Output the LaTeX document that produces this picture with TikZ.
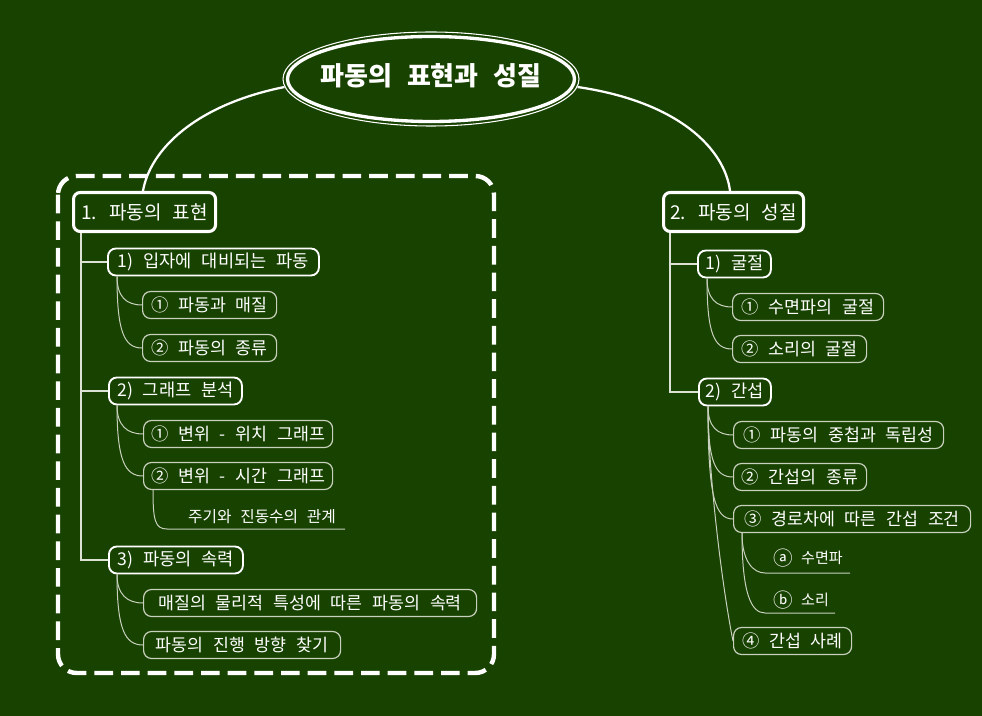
\documentclass[tikz,border=0pt]{standalone}
\usepackage{fontspec}
\newfontfamily\kr[WordSpace=2.5]{Noto Sans CJK KR}
\usetikzlibrary{calc,shapes.geometric}
\definecolor{bg}{RGB}{24,66,0}
\definecolor{ln}{RGB}{220,226,212}
\definecolor{lthree}{RGB}{200,208,190}
\def\PX{0.75pt}
\newcommand\circl[1]{\raisebox{-0.12em}{\scalebox{1.3}{#1}}}
\begin{document}
\begin{tikzpicture}[x=0.75pt,y=-0.75pt, text=white,
 lone/.style={draw=white, line width=2.3pt, rounded corners=5pt, fill=bg, minimum height=39*\PX, anchor=west, inner sep=0pt, font=\kr\fontsize{14.3}{16}\selectfont},
 ltwo/.style={draw=white, line width=1.4pt, rounded corners=6pt, fill=bg, minimum height=27*\PX, anchor=west, inner sep=0pt, font=\kr\fontsize{13.2}{15}\selectfont},
 lthr/.style={draw=lthree, line width=0.9pt, rounded corners=6pt, fill=bg, minimum height=27*\PX, anchor=west, inner sep=0pt, font=\kr\fontsize{13}{15}\selectfont},
 utxt/.style={inner sep=0pt, font=\kr\fontsize{11.8}{13}\selectfont},
 conn/.style={draw=ln, line width=1pt},
 sub/.style={draw=lthree, line width=0.75pt},
 mainc/.style={draw=white, line width=1.7pt}
]
\fill[bg] (0,0) rectangle (982,716);
\useasboundingbox (0,0) rectangle (982,716);

% dashed frame
\draw[white, line width=3.3pt, dash pattern=on 14pt off 6pt, rounded corners=14pt]
  (58,176) rectangle (494,673);

% title
\node[ellipse, draw=white, line width=0.8pt, minimum width=296*\PX, minimum height=94*\PX, inner sep=0pt] (Tout) at (431,79) {};
\node[ellipse, draw=white, line width=2.5pt, minimum width=287*\PX, minimum height=85*\PX, inner sep=0pt] (Tin) at (431,79) {};
\node[inner sep=0pt, font=\kr\bfseries\fontsize{19.5}{22}\selectfont] (T) at (431,76) {파동의 표현과 성질};

% level 1
\node[lone, minimum width=142*\PX] (A) at (72,212) {1. 파동의 표현};
\node[lone, minimum width=140*\PX] (B) at (662,212) {2. 파동의 성질};

\coordinate (TL) at ($(Tout.west)+(2,8)$);
\coordinate (TR) at ($(Tout.east)+(-2,8)$);
\draw[mainc] (TL) .. controls (195,105) and (150,150) .. (A.north -| 143,0);
\draw[mainc] (TR) .. controls (680,102) and (725,150) .. (B.north -| 730,0);

% left level 2
\node[ltwo, minimum width=211*\PX] (A1) at (107,262) {1) 입자에 대비되는 파동};
\node[ltwo, minimum width=133*\PX] (A2) at (108,391) {2) 그래프 분석};
\node[ltwo, minimum width=134*\PX] (A3) at (108,560) {3) 파동의 속력};

\coordinate (At) at ($(A.south west)+(9,0)$);
\draw[conn] (At) |- (A1.west);
\draw[conn] (At) |- (A2.west);
\draw[conn] (At) |- (A3.west);

% left level 3
\node[lthr, minimum width=134*\PX] (A11) at (142,305) {① 파동과 매질};
\node[lthr, minimum width=134*\PX] (A12) at (142,348) {② 파동의 종류};
\node[lthr, minimum width=189*\PX] (A21) at (143,434) {① 변위 - 위치 그래프};
\node[lthr, minimum width=189*\PX] (A22) at (143,476) {② 변위 - 시간 그래프};
\node[lthr, minimum width=333*\PX] (A31) at (143,603) {매질의 물리적 특성에 따른 파동의 속력};
\node[lthr, minimum width=197*\PX] (A32) at (143,645) {파동의 진행 방향 찾기};

\coordinate (A1s) at ($(A1.south west)+(10,0)$);
\draw[sub] (A1s) .. controls +(0,20) and +(-16,0) .. (A11.west);
\draw[sub] (A1s) .. controls +(0,55) and +(-18,0) .. (A12.west);
\coordinate (A2s) at ($(A2.south west)+(9,0)$);
\draw[sub] (A2s) .. controls +(0,20) and +(-16,0) .. (A21.west);
\draw[sub] (A2s) .. controls +(0,55) and +(-18,0) .. (A22.west);
\coordinate (A3s) at ($(A3.south west)+(9,0)$);
\draw[sub] (A3s) .. controls +(0,20) and +(-16,0) .. (A31.west);
\draw[sub] (A3s) .. controls +(0,55) and +(-18,0) .. (A32.west);

\node[utxt] (A221) at (262,517) {주기와 진동수의 관계};
\coordinate (U1a) at (167,529);
\coordinate (U1b) at (345,529);
\coordinate (A22s) at ($(A22.south west)+(10,0)$);
\draw[sub] (A22s) .. controls +(0,30) and +(-12,0) .. (U1a) -- (U1b);

% right level 2
\node[ltwo, minimum width=73*\PX] (B1) at (697,264) {1) 굴절};
\node[ltwo, minimum width=72*\PX] (B2) at (698,392) {2) 간섭};
\coordinate (Bt) at ($(B.south west)+(8,0)$);
\draw[conn] (Bt) |- (B1.west);
\draw[conn] (Bt) |- (B2.west);

% right level 3
\node[lthr, minimum width=151*\PX] (B11) at (732,307) {① 수면파의 굴절};
\node[lthr, minimum width=134*\PX] (B12) at (732,349) {② 소리의 굴절};
\node[lthr, minimum width=210*\PX] (B21) at (733,435) {① 파동의 중첩과 독립성};
\node[lthr, minimum width=133*\PX] (B22) at (733,477) {② 간섭의 종류};
\node[lthr, minimum width=237*\PX] (B23) at (733,519) {③ 경로차에 따른 간섭 조건};
\node[lthr, minimum width=118*\PX] (B24) at (733,641) {④ 간섭 사례};

\coordinate (B1s) at ($(B1.south west)+(10,0)$);
\draw[sub] (B1s) .. controls +(0,20) and +(-16,0) .. (B11.west);
\draw[sub] (B1s) .. controls +(0,55) and +(-18,0) .. (B12.west);
\coordinate (B2s) at ($(B2.south west)+(10,0)$);
\draw[sub] (B2s) .. controls +(0,20) and +(-16,0) .. (B21.west);
\draw[sub] (B2s) .. controls +(0,55) and +(-18,0) .. (B22.west);
\draw[sub] (B2s) .. controls +(0,90) and +(-18,0) .. (B23.west);
\draw[sub] (B2s) .. controls +(0,60) and +(-12,-60) .. (B24.west);

\node[utxt, font=\kr\fontsize{11.3}{13}\selectfont] (B231) at (808,558) {\circl{ⓐ} 수면파};
\node[utxt, font=\kr\fontsize{11.3}{13}\selectfont] (B232) at (801,600) {\circl{ⓑ} 소리};
\coordinate (B23s) at ($(B23.south west)+(9,0)$);
\coordinate (U2a) at (765,573);
\coordinate (U2b) at (850,573);
\coordinate (U3a) at (765,613);
\coordinate (U3b) at (835,613);
\draw[sub] (B23s) .. controls +(0,28) and +(-12,0) .. (U2a) -- (U2b);
\draw[sub] (B23s) .. controls +(0,60) and +(-14,0) .. (U3a) -- (U3b);
\end{tikzpicture}
\end{document}
